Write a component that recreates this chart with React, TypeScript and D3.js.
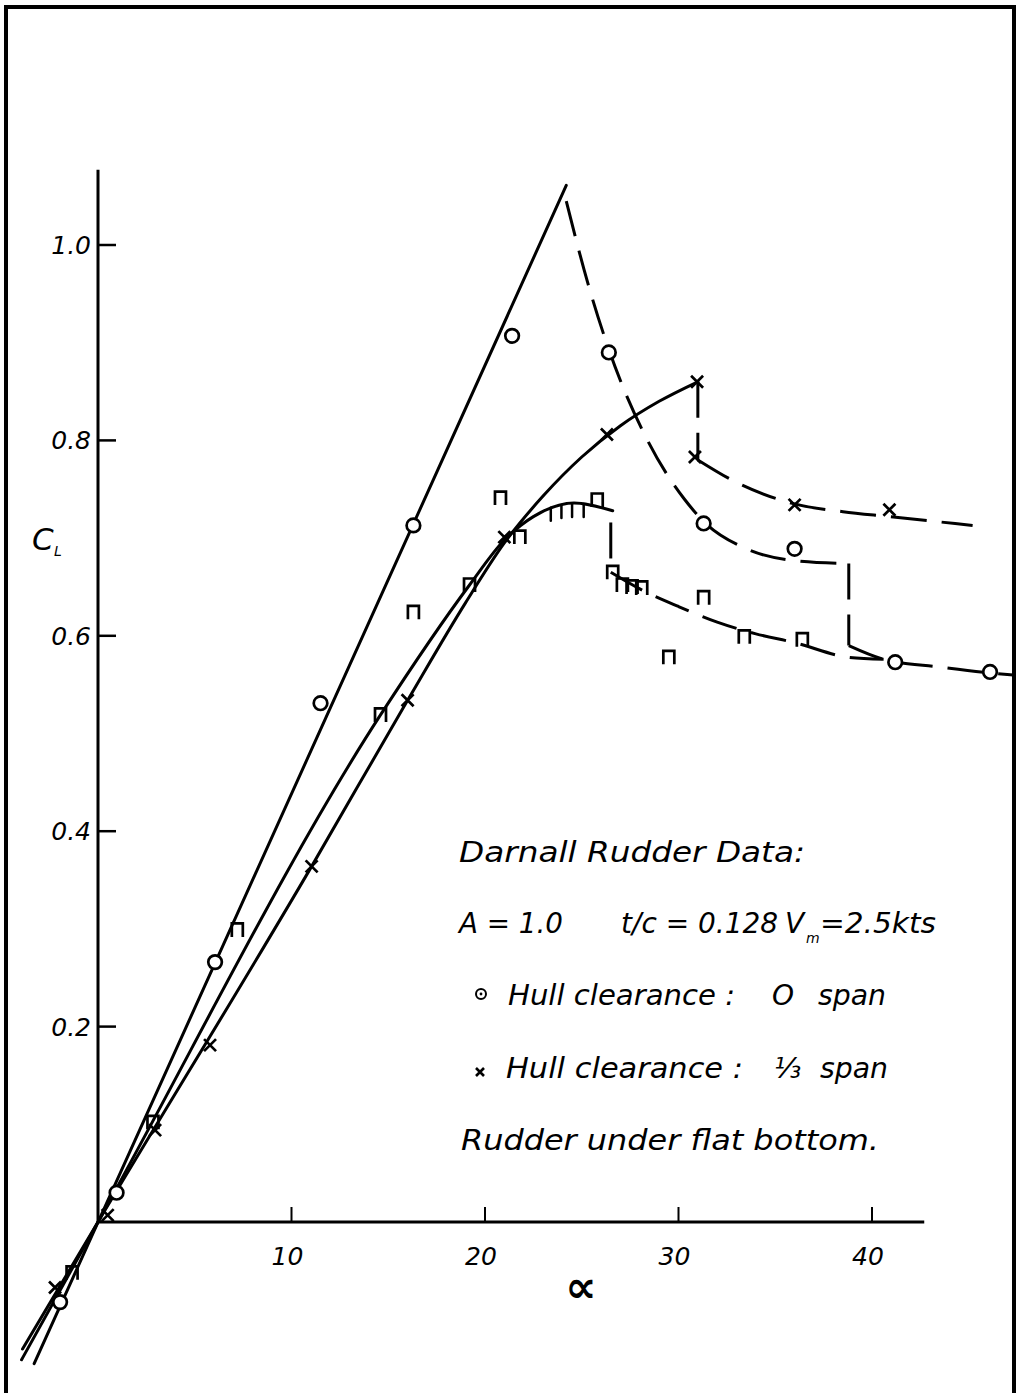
import React from 'react';
import * as d3 from 'd3';

// ---------- data (alpha in degrees, CL) ----------
const xTicks = [10, 20, 30, 40];
const xTickLabels = ['10', '20', '30', '40'];
const yTicks = [0.2, 0.4, 0.6, 0.8, 1.0];
const yTickLabels = ['0.2', '0.4', '0.6', '0.8', '1.0'];
const yAxisTop = 1.077;
const xAxisEnd = 42.7;

// Hull clearance: 0 span (circles)
const zeroSpanPoints: [number, number][] = [
  [-1.96, -0.082], [0.96, 0.03], [6.05, 0.266], [11.5, 0.531], [16.3, 0.713],
  [21.4, 0.907], [26.4, 0.89], [31.3, 0.715], [36.0, 0.689], [41.2, 0.573], [46.1, 0.563],
];
const zeroSpanSolid: [number, number][] = [[-3.3, -0.145], [24.2, 1.061]];
const zeroSpanDashA: [number, number][] = [
  [24.2, 1.045], [25.3, 0.962], [26.4, 0.893], [28.4, 0.8], [30.3, 0.74], [31.3, 0.717],
  [33.4, 0.69], [36.0, 0.677], [38.8, 0.674],
];
const zeroSpanDrop: [number, number][] = [[38.8, 0.674], [38.8, 0.59]];
const zeroSpanDashB: [number, number][] = [
  [38.8, 0.59], [40.6, 0.576], [43.5, 0.568], [46.1, 0.562], [47.3, 0.56],
];

// Hull clearance: 1/3 span (crosses)
const thirdSpanPoints: [number, number][] = [
  [-2.22, -0.067], [0.5, 0.007], [2.95, 0.094], [5.79, 0.181], [11.04, 0.364],
  [16.0, 0.534], [21.0, 0.701], [26.3, 0.806], [30.96, 0.86], [30.85, 0.783],
  [36.0, 0.734], [40.9, 0.729],
];
const thirdSpanSolid: [number, number][] = [
  [-3.9, -0.13], [0, 0], [11.04, 0.364], [16.0, 0.534], [19.0, 0.634], [21.0, 0.695],
  [23.0, 0.743], [25.0, 0.783], [27.0, 0.815], [29.0, 0.840], [31.0, 0.86],
];
const thirdSpanDrop: [number, number][] = [[31.0, 0.86], [31.0, 0.78]];
const thirdSpanDash: [number, number][] = [
  [31.0, 0.78], [33.0, 0.757], [36.0, 0.735], [38.5, 0.727], [40.9, 0.722], [45.2, 0.713],
];

// Rudder under flat bottom (square-bracket marks)
const flatPoints: [number, number][] = [
  [-1.34, -0.052], [2.84, 0.102], [7.2, 0.299], [14.6, 0.519], [16.3, 0.624],
  [19.2, 0.652], [20.8, 0.741], [21.8, 0.701], [25.8, 0.739], [26.6, 0.665],
  [27.1, 0.652], [27.6, 0.65], [28.1, 0.649], [29.5, 0.578], [31.3, 0.639],
  [33.4, 0.599], [36.4, 0.596],
];
const flatTicks: [number, number][] = [[23.4, 0.731], [23.95, 0.734], [24.5, 0.735], [25.1, 0.735]];
const flatSolid: [number, number][] = [
  [-3.95, -0.141], [0, 0], [14.6, 0.519], [19.2, 0.652], [21.0, 0.698],
  [22.5, 0.722], [24.6, 0.736], [26.6, 0.728],
];
const flatDrop: [number, number][] = [[26.5, 0.716], [26.5, 0.665]];
const flatDash: [number, number][] = [
  [26.5, 0.665], [28.0, 0.648], [30.0, 0.63], [32.0, 0.614], [34.0, 0.602],
  [36.0, 0.593], [38.8, 0.578], [40.6, 0.576],
];

// ---------- layout ----------
const W = 1020;
const H = 1393;
const xs = d3.scaleLinear().domain([0, 40]).range([98, 872]);
const ys = d3.scaleLinear().domain([0, 1]).range([1222, 245]);

const curved = d3.line<[number, number]>().x(d => xs(d[0])).y(d => ys(d[1])).curve(d3.curveMonotoneX);
const straight = d3.line<[number, number]>().x(d => xs(d[0])).y(d => ys(d[1]));

const FONT = '"DejaVu Sans", "Liberation Sans", sans-serif';
const SW = 3;
const DASH = '36,15';

function Circle({ p }: { p: [number, number] }) {
  return <circle cx={xs(p[0])} cy={ys(p[1])} r={6.8} fill="#fff" stroke="#000" strokeWidth={2.7} />;
}
function Cross({ p, s = 6 }: { p: [number, number]; s?: number }) {
  const cx = xs(p[0]);
  const cy = ys(p[1]);
  return (
    <path d={`M${cx - s},${cy - s}L${cx + s},${cy + s}M${cx + s},${cy - s}L${cx - s},${cy + s}`}
      stroke="#000" strokeWidth={2.7} fill="none" />
  );
}
function Pi({ p }: { p: [number, number] }) {
  const cx = xs(p[0]);
  const cy = ys(p[1]);
  return (
    <path d={`M${cx - 5.5},${cy + 7}V${cy - 6.5}H${cx + 5.5}V${cy + 7}`} stroke="#000" strokeWidth={2.7} fill="none" />
  );
}

export default function App() {
  const x0 = xs(0);
  const y0 = ys(0);
  const t = { fontFamily: FONT, fontStyle: 'italic' as const, fill: '#000' };
  return (
    <svg width={W} height={H} style={{ position: 'absolute', left: 0, top: 0, background: '#fff' }}>
      <rect x={0} y={0} width={W} height={H} fill="#fff" />
      {/* frame */}
      <path d={`M6,${H}V7H1014V${H}`} fill="none" stroke="#000" strokeWidth={4} />

      {/* axes */}
      <line x1={x0} x2={x0} y1={y0} y2={ys(yAxisTop)} stroke="#000" strokeWidth={3} />
      <line x1={x0} x2={xs(xAxisEnd)} y1={y0} y2={y0} stroke="#000" strokeWidth={3} />
      {yTicks.map((v, i) => (
        <g key={'yt' + i}>
          <line x1={x0} x2={x0 + 18} y1={ys(v)} y2={ys(v)} stroke="#000" strokeWidth={2.5} />
          <text x={91} y={ys(v) + 9} textAnchor="end" fontSize={25} {...t}>{yTickLabels[i]}</text>
        </g>
      ))}
      {xTicks.map((v, i) => (
        <g key={'xt' + i}>
          <line x1={xs(v)} x2={xs(v)} y1={y0} y2={y0 - 15} stroke="#000" strokeWidth={2} />
          <text x={xs(v) - 4} y={y0 + 43} textAnchor="middle" fontSize={25} {...t}>{xTickLabels[i]}</text>
        </g>
      ))}
      <text x={581} y={1302} textAnchor="middle" fontSize={44} fontWeight="bold" {...t}>∝</text>
      <text x={32} y={550} fontSize={31} {...t}>C</text>
      <text x={54} y={556} fontSize={14} {...t}>L</text>

      {/* lines */}
      <g fill="none" stroke="#000" strokeWidth={SW} strokeLinecap="round">
        <path d={straight(zeroSpanSolid) || ''} />
        <path d={curved(thirdSpanSolid) || ''} />
        <path d={curved(flatSolid) || ''} />
        <g strokeDasharray={DASH} strokeLinecap="butt">
          <path d={curved(zeroSpanDashA) || ''} />
          <path d={straight(zeroSpanDrop) || ''} />
          <path d={curved(zeroSpanDashB) || ''} />
          <path d={straight(thirdSpanDrop) || ''} />
          <path d={curved(thirdSpanDash) || ''} />
          <path d={straight(flatDrop) || ''} />
          <path d={curved(flatDash) || ''} />
        </g>
        {flatTicks.map((p, i) => (
          <line key={'ft' + i} x1={xs(p[0])} x2={xs(p[0])} y1={ys(p[1])} y2={ys(p[1]) + 13} strokeWidth={2.5} />
        ))}
      </g>

      {/* markers */}
      {zeroSpanPoints.map((p, i) => <Circle key={'c' + i} p={p} />)}
      {thirdSpanPoints.map((p, i) => <Cross key={'x' + i} p={p} />)}
      {flatPoints.map((p, i) => <Pi key={'p' + i} p={p} />)}

      {/* annotation */}
      <g fontSize={28} {...t}>
        <text x={459} y={862} textLength={346} lengthAdjust="spacingAndGlyphs">Darnall  Rudder  Data:</text>
        <text x={459} y={933} textLength={104} lengthAdjust="spacingAndGlyphs">A = 1.0</text>
        <text x={621} y={933} textLength={157} lengthAdjust="spacingAndGlyphs">t/c = 0.128</text>
        <text x={785} y={933}>V</text>
        <text x={806} y={943} fontSize={14}>m</text>
        <text x={820} y={933} textLength={116} lengthAdjust="spacingAndGlyphs">=2.5kts</text>
        <text x={508} y={1005} textLength={227} lengthAdjust="spacingAndGlyphs">Hull  clearance :</text>
        <text x={772} y={1005}>O</text>
        <text x={818} y={1005} textLength={68} lengthAdjust="spacingAndGlyphs">span</text>
        <text x={506} y={1078} textLength={237} lengthAdjust="spacingAndGlyphs">Hull  clearance :</text>
        <text x={774} y={1078}>⅓</text>
        <text x={820} y={1078} textLength={68} lengthAdjust="spacingAndGlyphs">span</text>
        <text x={461} y={1150} textLength={418} lengthAdjust="spacingAndGlyphs">Rudder  under  flat  bottom.</text>
      </g>
      <circle cx={481} cy={994} r={5} fill="none" stroke="#000" strokeWidth={2} />
      <circle cx={481} cy={994} r={1.4} fill="#000" />
      <path d="M476,1068L484,1076M484,1068L476,1076" stroke="#000" strokeWidth={2.6} />
    </svg>
  );
}
